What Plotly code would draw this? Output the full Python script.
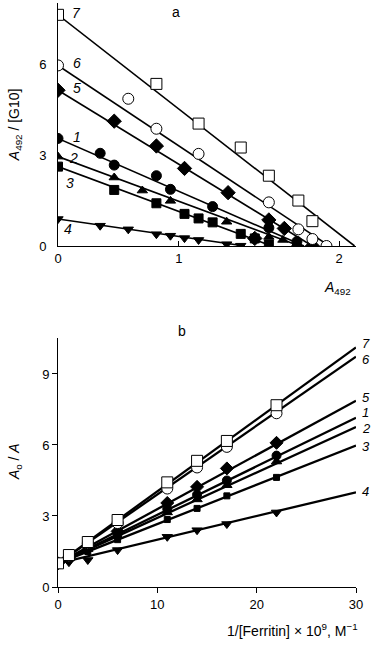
import plotly.graph_objects as go

# ---------------- Panel a data (A492 vs A492/[G10]) ----------------
a_series = ["1", "2", "3", "4", "5", "6", "7"]
a_x1 = [0, 0.30, 0.40, 0.70, 0.80, 1.10, 1.50, 1.70]
a_y1 = [3.55, 3.06, 2.67, 2.32, 1.87, 1.30, 0.60, 0.15]
a_x2 = [0, 0.40, 0.60, 0.80, 1.20, 1.50, 1.60, 1.70]
a_y2 = [2.95, 2.26, 1.83, 1.49, 0.80, 0.30, 0.20, 0.09]
a_x3 = [0, 0.40, 0.70, 0.90, 1.00, 1.10, 1.30, 1.40, 1.50]
a_y3 = [2.62, 1.85, 1.41, 1.06, 0.91, 0.78, 0.40, 0.25, 0.05]
a_x4 = [0, 0.30, 0.50, 0.70, 0.80, 0.90, 1.00, 1.20, 1.30]
a_y4 = [0.89, 0.67, 0.55, 0.39, 0.34, 0.26, 0.20, 0.06, 0.01]
a_x5 = [0, 0.40, 0.70, 0.90, 1.21, 1.40, 1.50, 1.61, 1.81]
a_y5 = [5.14, 4.12, 3.30, 2.56, 1.76, 0.25, 0.86, 0.58, 0.0]
a_x6 = [0, 0.50, 0.70, 1.00, 1.50, 1.71, 1.81, 1.91]
a_y6 = [5.96, 4.86, 3.87, 3.04, 1.44, 0.55, 0.23, 0.0]
a_x7 = [0, 0.70, 1.00, 1.30, 1.50, 1.71, 1.81]
a_y7 = [7.63, 5.35, 4.04, 3.25, 2.32, 1.50, 0.82]
# fitted straight lines: y-intercept and x-intercept
a_fit_y0 = [3.55, 2.95, 2.62, 0.89, 5.14, 5.96, 7.63]
a_fit_x0 = [1.75, 1.72, 1.52, 1.33, 1.81, 1.93, 2.11]
a_xticks = ["0", "1", "2"]

# ---------------- Panel b data (1/[Ferritin] vs A0/A) ----------------
b_x = [0, 1.1, 3, 6, 11, 14, 17, 22]
b_y1 = [1.0, 1.22, 1.62, 2.25, 3.30, 3.90, 4.50, 5.55]
b_y2 = [1.0, 1.20, 1.60, 2.15, 3.15, 3.70, 4.30, 5.30]
b_y3 = [1.0, 1.18, 1.50, 2.00, 2.85, 3.32, 3.85, 4.63]
b_y4 = [1.0, 1.05, 1.14, 1.56, 2.12, 2.40, 2.66, 3.15]
b_y5 = [1.0, 1.25, 1.70, 2.35, 3.55, 4.23, 5.01, 6.09]
b_y6 = [1.0, 1.30, 1.85, 2.70, 4.16, 5.05, 5.92, 7.34]
b_y7 = [1.0, 1.35, 1.90, 2.83, 4.42, 5.33, 6.17, 7.68]
# fitted straight lines: intercept and slope
b_fit_b = [1.0, 1.0, 1.0, 1.0, 1.0, 1.0, 1.0]
b_fit_k = [0.205, 0.192, 0.166, 0.100, 0.229, 0.291, 0.304]
b_fit_xmax = 30

a_xs = [a_x1, a_x2, a_x3, a_x4, a_x5, a_x6, a_x7]
a_ys = [a_y1, a_y2, a_y3, a_y4, a_y5, a_y6, a_y7]
b_ys = [b_y1, b_y2, b_y3, b_y4, b_y5, b_y6, b_y7]

# styles per series 1..7
symbols = ["circle", "triangle-up", "square", "triangle-down", "diamond", "circle", "square"]
fills = ["black", "black", "black", "black", "black", "white", "white"]
a_sizes = [10, 9, 9, 9, 11, 11, 11]
b_sizes = [9, 9, 6, 9, 10, 11, 11]

FONT = "Liberation Sans, Arial, sans-serif"
fig = go.Figure()

# panel a lines
for i in range(7):
    fig.add_trace(go.Scatter(x=[0, a_fit_x0[i]], y=[a_fit_y0[i], 0], mode="lines",
                             line=dict(color="black", width=1.6),
                             xaxis="x", yaxis="y", showlegend=False, hoverinfo="skip"))
# panel b lines
for i in range(7):
    fig.add_trace(go.Scatter(x=[0, b_fit_xmax], y=[b_fit_b[i], b_fit_b[i] + b_fit_k[i] * b_fit_xmax],
                             mode="lines", line=dict(color="black", width=2.3),
                             xaxis="x2", yaxis="y2", showlegend=False, hoverinfo="skip"))
# markers
for i in [3, 2, 1, 0, 4, 5, 6]:
    fig.add_trace(go.Scatter(x=a_xs[i], y=a_ys[i], mode="markers",
                             marker=dict(symbol=symbols[i], size=a_sizes[i], color=fills[i],
                                         line=dict(color="black", width=1)),
                             xaxis="x", yaxis="y", showlegend=False, name=a_series[i]))
    fig.add_trace(go.Scatter(x=b_x, y=b_ys[i], mode="markers",
                             marker=dict(symbol=symbols[i], size=b_sizes[i], color=fills[i],
                                         line=dict(color="black", width=1)),
                             xaxis="x2", yaxis="y2", showlegend=False, name=a_series[i]))


def tfont(s=13):
    return dict(size=s, family=FONT, color="black")


ann = []
# series labels panel a (data coordinates)
a_lab_pos = {"7": (0.135, 7.69), "6": (0.135, 6.04), "5": (0.135, 5.21), "1": (0.135, 3.6),
             "2": (0.107, 2.9), "3": (0.085, 2.08), "4": (0.071, 0.56)}
for k, (xx, yy) in a_lab_pos.items():
    ann.append(dict(x=xx, y=yy, xref="x", yref="y", text="<i>%s</i>" % k, showarrow=False,
                    font=tfont(14), xanchor="center", yanchor="middle"))
# series labels panel b (at the right end of each line, paper coordinates)
b_lab_pos = {"7": 0.417, "6": 0.389, "5": 0.325, "1": 0.298, "2": 0.272, "3": 0.240, "4": 0.163}
for k, yy in b_lab_pos.items():
    ann.append(dict(x=1.013, y=yy, xref="paper", yref="paper", text="<i>%s</i>" % k, showarrow=False,
                    font=tfont(13), xanchor="left", yanchor="middle"))

ann += [
    dict(x=0.396, y=0.985, xref="paper", yref="paper", text="a", showarrow=False, font=tfont(14),
         xanchor="center", yanchor="middle"),
    dict(x=0.416, y=0.438, xref="paper", yref="paper", text="b", showarrow=False, font=tfont(14),
         xanchor="center", yanchor="middle"),
    dict(x=-0.144, y=0.791, xref="paper", yref="paper", text="<i>A</i><sub>492</sub> / [G10]",
         textangle=-90, showarrow=False, font=tfont(14), xanchor="center", yanchor="middle"),
    dict(x=0.99, y=0.512, xref="paper", yref="paper", text="<i>A</i><sub>492</sub>",
         showarrow=False, font=tfont(14), xanchor="right", yanchor="middle"),
    dict(x=-0.144, y=0.214, xref="paper", yref="paper", text="<i>A</i><sub>o</sub> / <i>A</i>",
         textangle=-90, showarrow=False, font=tfont(14), xanchor="center", yanchor="middle"),
    dict(x=1.013, y=-0.0736, xref="paper", yref="paper",
         text="1/[Ferritin] × 10<sup>9</sup>, M<sup>−1</sup>", showarrow=False, font=tfont(14),
         xanchor="right", yanchor="middle"),
]

axis_common = dict(showline=True, linecolor="black", linewidth=1, showgrid=False, zeroline=False,
                   tickfont=tfont(13), tickcolor="black")

fig.update_layout(
    width=377, height=647, margin=dict(l=58, r=21, t=3, b=60),
    paper_bgcolor="white", plot_bgcolor="white", showlegend=False,
    font=dict(family=FONT, color="black", size=13),
    xaxis=dict(domain=[0, 1], range=[0, 2.12], anchor="y", tickvals=[0, 0.86, 2], ticktext=a_xticks,
               ticks="inside", ticklen=5, **axis_common),
    yaxis=dict(domain=[0.5839, 1.0], range=[0, 8.02], anchor="x", tickvals=[0, 3, 6],
               ticks="", ticklabelstandoff=8, **axis_common),
    xaxis2=dict(domain=[0, 1], range=[0, 30], anchor="y2", tickvals=[0, 10, 20, 30],
                ticks="outside", ticklen=5, **axis_common),
    yaxis2=dict(domain=[0, 0.4264], range=[0, 10.52], anchor="x2", tickvals=[0, 3, 6, 9],
                ticks="outside", ticklen=5, **axis_common),
    annotations=ann,
)

fig.write_html("out.html", config={"displayModeBar": False},
               post_script="document.body.style.margin='0';document.body.style.padding='0';")
